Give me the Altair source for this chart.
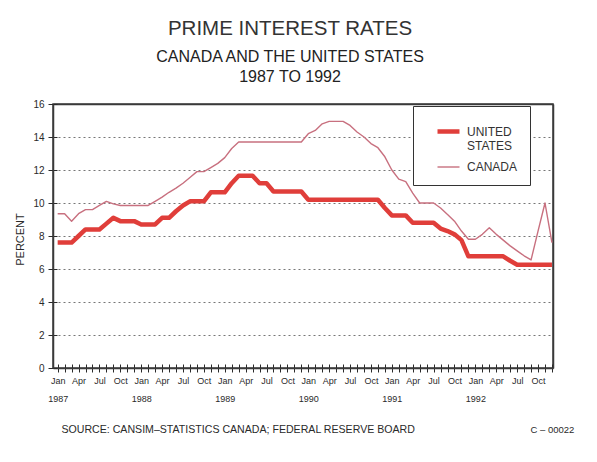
import altair as alt
import pandas as pd

# ---- data (monthly, Jan 1987 = 0 ... Dec 1992 = 71) ----
months = list(range(72))
series_names = ["UNITED STATES", "CANADA"]

us_rate = [
    7.6, 7.6, 7.6, 8.0, 8.4, 8.4, 8.4, 8.75, 9.1, 8.9, 8.9, 8.9,          # 1987
    8.7, 8.7, 8.7, 9.1, 9.1, 9.5, 9.85, 10.1, 10.1, 10.1, 10.65, 10.65,  # 1988
    10.65, 11.2, 11.65, 11.65, 11.65, 11.2, 11.2, 10.7, 10.7, 10.7, 10.7, 10.7,  # 1989
    10.2, 10.2, 10.2, 10.2, 10.2, 10.2, 10.2, 10.2, 10.2, 10.2, 10.2, 9.7,  # 1990
    9.25, 9.25, 9.25, 8.8, 8.8, 8.8, 8.8, 8.45, 8.3, 8.1, 7.75, 6.77,     # 1991
    6.77, 6.77, 6.77, 6.77, 6.77, 6.5, 6.26, 6.26, 6.26, 6.26, 6.26, 6.26,  # 1992
]
canada_rate = [
    9.35, 9.35, 8.9, 9.35, 9.6, 9.6, 9.85, 10.1, 9.95, 9.85, 9.85, 9.85,     # 1987
    9.85, 9.85, 10.1, 10.36, 10.65, 10.9, 11.2, 11.55, 11.9, 11.9, 12.15, 12.4,  # 1988
    12.75, 13.3, 13.7, 13.7, 13.7, 13.7, 13.7, 13.7, 13.7, 13.7, 13.7, 13.7,  # 1989
    14.2, 14.4, 14.8, 14.95, 14.95, 14.95, 14.7, 14.3, 14.0, 13.6, 13.35, 12.8,  # 1990
    12.0, 11.45, 11.3, 10.6, 10.0, 10.0, 10.0, 9.7, 9.3, 8.9, 8.3, 7.8,       # 1991
    7.8, 8.1, 8.5, 8.1, 7.75, 7.4, 7.1, 6.8, 6.55, 8.3, 10.0, 7.6,           # 1992
]
quarter_labels = ["Jan", "Apr", "Jul", "Oct"]
first_year = 1987

rows = []
for name, vals in zip(series_names, [us_rate, canada_rate]):
    for m, v in zip(months, vals):
        rows.append({"month": m, "rate": v, "series": name})
df = pd.DataFrame(rows)

FONT = "Liberation Sans, Arial, sans-serif"
INK = "#2a2a2a"
FRAME = "#3a3a3a"

xscale = alt.Scale(domain=[-0.67, 71.15], nice=False, zero=False)
yscale = alt.Scale(domain=[0, 16], nice=False)

q = "[" + ",".join("'" + s + "'" for s in quarter_labels) + "]"
label_expr = (
    "datum.value % 3 != 0 ? '' : (datum.value % 12 == 0 ? "
    "[" + q + "[0], '' + (" + str(first_year) + " + floor(datum.value / 12))] : "
    + q + "[floor((datum.value % 12) / 3)])"
)

x_axis = alt.Axis(
    values=months, labelExpr=label_expr, labelOverlap=False, labelFlush=False,
    domain=False, grid=False, tickSize=8, tickColor=INK, tickWidth=1,
    offset=-4, labelPadding=4, labelFont=FONT, labelFontSize=9,
    labelColor=INK, labelLineHeight=18, labelBaseline="top",
    title="SOURCE: CANSIM\u2013STATISTICS CANADA; FEDERAL RESERVE BOARD",
    titleFont=FONT, titleFontSize=10.6, titleFontWeight="normal", titleColor=INK,
    titleAnchor="start", titleAlign="left", titleBaseline="alphabetic",
    titleX=8, titleY=68,
)
y_axis = alt.Axis(
    values=list(range(0, 17, 2)), grid=True, gridDash=[2, 3], gridColor="#777",
    gridWidth=1, domain=False, tickSize=9, tickColor=INK, tickWidth=1, offset=-4,
    labelPadding=4, labelFont=FONT, labelFontSize=10, labelColor=INK,
    title="PERCENT", titleFont=FONT, titleFontSize=11, titleFontWeight="normal",
    titleColor=INK, titleAngle=-90, titleAlign="center", titleBaseline="middle",
    titleX=-37, titleY=135,
)

legend = alt.Legend(
    orient="none", legendX=360, legendY=2, title=None,
    strokeColor="#333", fillColor="white", padding=12,
    symbolType="stroke", symbolSize=484, symbolOffset=10, labelOffset=5,
    labelFont=FONT, labelFontSize=12, labelColor="#333",
    rowPadding=3,
    labelExpr="datum.label == 'UNITED STATES' ? ['UNITED', 'STATES'] : datum.label + '\u00a0\u00a0\u00a0\u00a0\u00a0\u00a0\u00a0'",
)

lines = alt.Chart(df).mark_line(strokeJoin="round", strokeCap="butt").encode(
    x=alt.X("month:Q", scale=xscale, axis=x_axis),
    y=alt.Y("rate:Q", scale=yscale, axis=y_axis),
    color=alt.Color("series:N", scale=alt.Scale(domain=series_names, range=["#e03e3a", "#c8707f"]), legend=legend),
    strokeWidth=alt.StrokeWidth("series:N", scale=alt.Scale(domain=series_names, range=[4.5, 1.4]), legend=legend),
    detail="series:N",
)

# invisible layer carrying the bottom/left frame lines and the card number
code_layer = alt.Chart(df).mark_line(opacity=0).encode(
    x=alt.X("month:Q", scale=xscale, axis=alt.Axis(
        orient="bottom", labels=False, ticks=False, grid=False,
        domain=True, domainColor=FRAME, domainWidth=1.5,
        title="C \u2013 00022", titleFont=FONT, titleFontSize=9.5, titleFontWeight="normal",
        titleColor=INK, titleAnchor="start", titleAlign="left", titleBaseline="alphabetic",
        titleX=477, titleY=64)),
    y=alt.Y("rate:Q", scale=yscale, axis=alt.Axis(
        orient="left", labels=False, ticks=False, grid=False, title=None,
        domain=True, domainColor=FRAME, domainWidth=1.5)),
    detail="series:N",
)

# invisible layer carrying the top/right frame lines
frame_layer = alt.Chart(df).mark_line(opacity=0).encode(
    x=alt.X("month:Q", scale=xscale, axis=alt.Axis(
        orient="top", labels=False, ticks=False, grid=False, title=None,
        domain=True, domainColor=FRAME, domainWidth=1.5)),
    y=alt.Y("rate:Q", scale=yscale, axis=alt.Axis(
        orient="right", labels=False, ticks=False, grid=False, title=None,
        domain=True, domainColor=FRAME, domainWidth=1.5)),
    detail="series:N",
)

chart = alt.layer(lines, code_layer, frame_layer).resolve_axis(
    x="independent", y="independent"
).properties(
    width=500, height=264,
    autosize=alt.AutoSizeParams(type="none"),
    padding={"left": 45, "top": 96, "right": 36, "bottom": 76},
    background="white",
    title=alt.TitleParams(
        text="PRIME INTEREST RATES",
        subtitle=["CANADA AND THE UNITED STATES", "1987 TO 1992"],
        font=FONT, fontSize=20.5, fontWeight="normal", color="#333",
        subtitleFont=FONT, subtitleFontSize=16, subtitleColor="#222",
        subtitleLineHeight=20, subtitlePadding=10,
        anchor="middle", frame="group", dx=-13, offset=14,
    ),
).configure_view(stroke=FRAME, strokeWidth=1.5)

chart.save("out.html", embed_options={"renderer": "svg", "actions": False})
